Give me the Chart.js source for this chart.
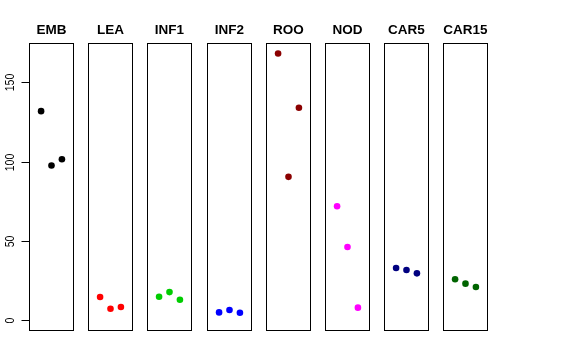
<!DOCTYPE html>
<html>
<head>
<meta charset="utf-8">
<script src="https://cdn.jsdelivr.net/npm/chart.js@4.4.1/dist/chart.umd.min.js"></script>
<style>
  html, body { margin: 0; padding: 0; background: #fff; }
  #wrap { position: relative; width: 576px; height: 360px; overflow: hidden; }
  #wrap canvas { position: absolute; top: 0; }
</style>
</head>
<body>
<div id="wrap"></div>
<script>
// data
const groups = ["EMB", "LEA", "INF1", "INF2", "ROO", "NOD", "CAR5", "CAR15"];
const colors = ["#000000", "#FF0000", "#00CD00", "#0000FF", "#8B0000", "#FF00FF", "#000080", "#006400"];
const xPos = [1, 2, 3];
const EMB = [131.8, 97.5, 101.5];
const LEA = [14.7, 7.3, 8.4];
const INF1 = [14.9, 17.8, 13.0];
const INF2 = [5.0, 6.5, 4.8];
const ROO = [168.1, 90.4, 133.9];
const NOD = [71.9, 46.2, 8.0];
const CAR5 = [33.0, 31.7, 29.6];
const CAR15 = [25.9, 23.1, 21.0];
const yTicks = [0, 50, 100, 150];

const values = [EMB, LEA, INF1, INF2, ROO, NOD, CAR5, CAR15];

// R-style axis limits: ylim 0..168, xlim 0..4, each widened by 4%
const yMin = -6.72, yMax = 174.72;
const xMin = -0.16, xMax = 4.16;

const wrap = document.getElementById("wrap");

const panelDeco = {
  id: "panelDeco",
  afterDraw(chart) {
    const ctx = chart.ctx;
    const ca = chart.chartArea;
    const opts = chart.options.plugins.panelDeco;
    ctx.save();
    // box
    ctx.strokeStyle = "#000";
    ctx.lineWidth = 1;
    ctx.strokeRect(ca.left + 0.5, ca.top + 0.5, ca.width - 1, ca.height - 1);
    // title
    ctx.fillStyle = "#000";
    ctx.font = "bold 13.5px 'Liberation Sans', Arial, sans-serif";
    ctx.textAlign = "center";
    ctx.textBaseline = "alphabetic";
    ctx.fillText(opts.title, (ca.left + ca.right) / 2, 34);
    // left axis only on the first panel
    if (opts.axis) {
      const ys = chart.scales.y;
      const x0 = ca.left + 0.5;
      ctx.beginPath();
      ctx.moveTo(x0, Math.round(ys.getPixelForValue(yTicks[0])) + 0.5);
      ctx.lineTo(x0, Math.round(ys.getPixelForValue(yTicks[yTicks.length - 1])) + 0.5);
      ctx.stroke();
      ctx.font = "12px 'Liberation Sans', Arial, sans-serif";
      yTicks.forEach(v => {
        const y = Math.round(ys.getPixelForValue(v)) + 0.5;
        ctx.beginPath();
        ctx.moveTo(x0 - 8, y);
        ctx.lineTo(x0, y);
        ctx.stroke();
        ctx.save();
        ctx.translate(14, y);
        ctx.rotate(-Math.PI / 2);
        ctx.scale(0.88, 1);
        ctx.textAlign = "center";
        ctx.fillText(String(v), 0, 0);
        ctx.restore();
      });
    }
    ctx.restore();
  }
};

groups.forEach((name, i) => {
  const left = Math.round(29 + i * 59.2);
  const padL = i === 0 ? left : 10;
  const padR = 10;
  const cv = document.createElement("canvas");
  cv.width = padL + 45 + padR;
  cv.height = 360;
  cv.style.width = cv.width + "px";
  cv.style.height = "360px";
  cv.style.left = (left - padL) + "px";
  wrap.appendChild(cv);

  new Chart(cv, {
    type: "scatter",
    data: {
      datasets: [{
        data: xPos.map((x, j) => ({ x: x, y: values[i][j] })),
        backgroundColor: colors[i],
        borderWidth: 0,
        pointRadius: 3.3,
      }],
    },
    options: {
      responsive: false,
      animation: false,
      events: [],
      layout: { padding: { left: padL, right: padR, top: 43, bottom: 29 } },
      scales: {
        x: { display: false, min: xMin, max: xMax },
        y: { display: false, min: yMin, max: yMax },
      },
      plugins: {
        legend: { display: false },
        tooltip: { enabled: false },
        panelDeco: { title: name, axis: i === 0 },
      },
    },
    plugins: [panelDeco],
  });
});
</script>
</body>
</html>
